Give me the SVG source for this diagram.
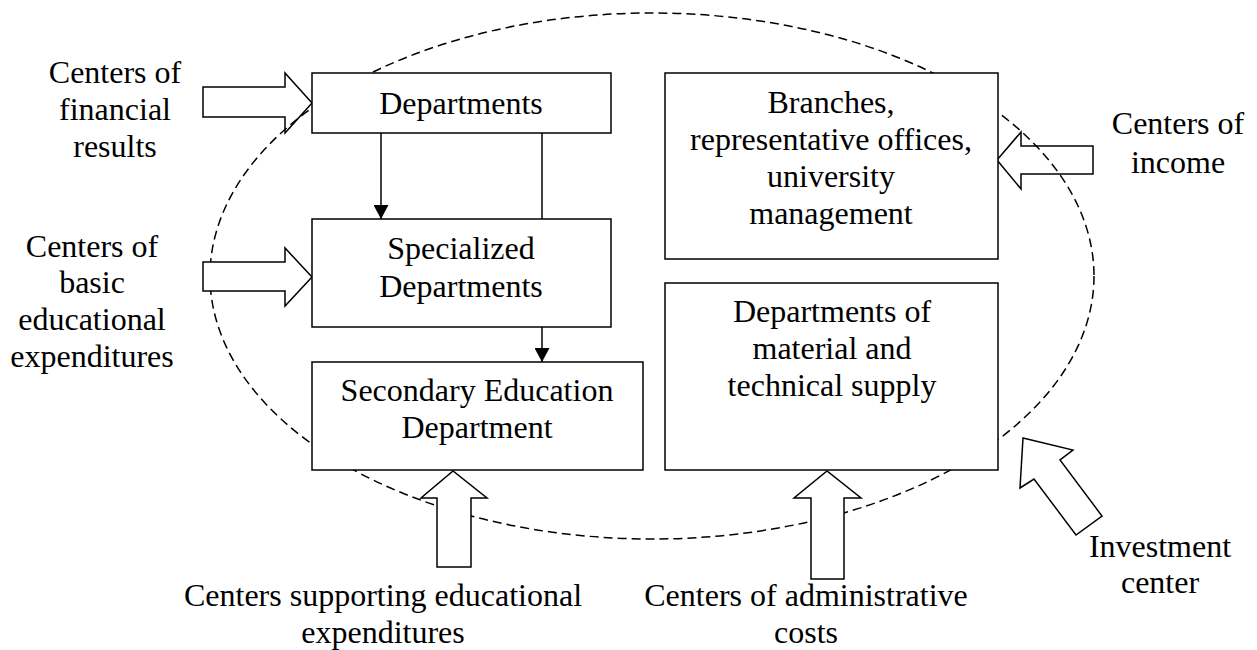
<svg xmlns="http://www.w3.org/2000/svg" width="1257" height="650" viewBox="0 0 1257 650">
<style>
text{font-family:"Liberation Serif","Times New Roman","DejaVu Serif",serif;font-size:32px;fill:#000;text-anchor:middle}
.box{fill:#fff;stroke:#000;stroke-width:1.5}
.blk{fill:#fff;stroke:#000;stroke-width:1.5;stroke-linejoin:miter}
.con{fill:none;stroke:#000;stroke-width:1.5}
.oval{fill:none;stroke:#000;stroke-width:1.5;stroke-dasharray:9 5}
</style>
<defs>
<marker id="ah" viewBox="0 0 14 15" refX="14" refY="7.5" markerWidth="14" markerHeight="15" orient="auto" markerUnits="userSpaceOnUse">
<path d="M0,0 L14,7.5 L0,15 z" fill="#000"/>
</marker>
</defs>
<rect width="1257" height="650" fill="#fff"/>
<g id="arrow-financial"><polygon class="blk" points="203,87 285,87 285,73 312,103 285,133 285,117 203,117"/></g>
<g id="arrow-income"><polygon class="blk" points="1093,146 1021,146 1021,132 997,160 1021,189 1021,174 1093,174"/></g>
<g id="boundary"><ellipse class="oval" cx="652" cy="276" rx="442" ry="263"/></g>
<g id="arrow-basic"><polygon class="blk" points="203,262 285,262 285,248 312,277 285,306 285,291 203,291"/></g>
<g id="arrow-supporting"><polygon class="blk" points="437,567 437,498 421,498 453,471 487,498 471,498 471,567"/></g>
<g id="arrow-admin"><polygon class="blk" points="811,579 811,498 794,498 827,471 861,498 844,498 844,579"/></g>
<g id="arrow-investment"><polygon class="blk" points="1023,438 1073,450 1060,460 1102,516 1076,535 1034,479 1020,488"/></g>
<g font-family="Liberation Serif, Times New Roman, serif">
<g id="departments"><rect class="box" x="312" y="73" width="299" height="60"/><text x="461" y="114">Departments</text></g>
<g id="specialized"><rect class="box" x="312" y="219" width="299" height="108"/><text x="461" y="259">Specialized</text><text x="461" y="297">Departments</text></g>
<g id="secondary"><rect class="box" x="312" y="362" width="331" height="108"/><text x="477" y="401">Secondary Education</text><text x="477" y="438">Department</text></g>
<g id="branches"><rect class="box" x="665" y="73" width="333" height="186"/><text x="831" y="113">Branches,</text><text x="831" y="150">representative offices,</text><text x="831" y="187">university</text><text x="831" y="224">management</text></g>
<g id="material"><rect class="box" x="665" y="283" width="333" height="187"/><text x="832" y="322">Departments of</text><text x="832" y="359">material and</text><text x="832" y="396">technical supply</text></g>
<g id="connectors">
<line class="con" x1="381" y1="133" x2="381" y2="219" marker-end="url(#ah)"/>
<line class="con" x1="542" y1="133" x2="542" y2="219"/>
<line class="con" x1="542" y1="327" x2="542" y2="362" marker-end="url(#ah)"/>
</g>
<g id="label-financial"><text x="115" y="83">Centers of</text><text x="115" y="120">financial</text><text x="115" y="157">results</text></g>
<g id="label-basic"><text x="92" y="257">Centers of</text><text x="92" y="293">basic</text><text x="92" y="330">educational</text><text x="92" y="367">expenditures</text></g>
<g id="label-income"><text x="1178" y="134">Centers of</text><text x="1178" y="173">income</text></g>
<g id="label-supporting"><text x="383" y="606">Centers supporting educational</text><text x="383" y="643">expenditures</text></g>
<g id="label-admin"><text x="806" y="606">Centers of administrative</text><text x="806" y="643">costs</text></g>
<g id="label-investment"><text x="1160" y="557">Investment</text><text x="1160" y="593">center</text></g>
</g>
</svg>
